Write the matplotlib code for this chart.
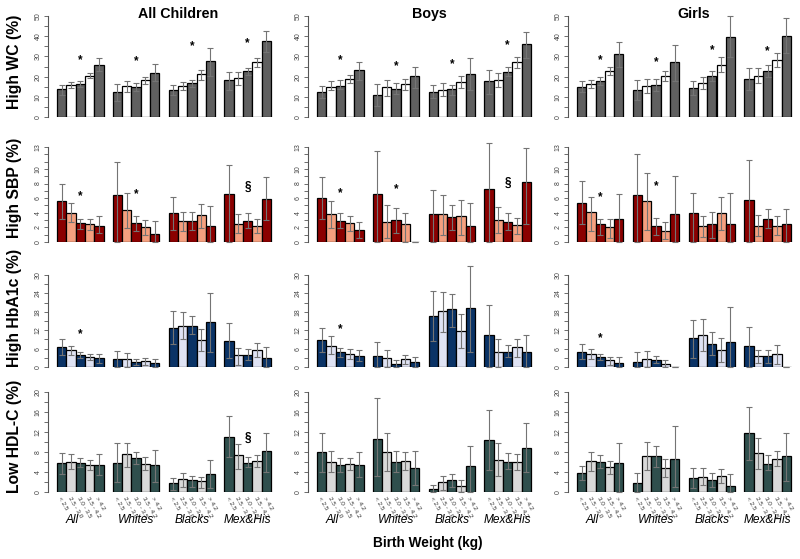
import numpy as np
import matplotlib
matplotlib.use('Agg')
import matplotlib.pyplot as plt

plt.rcParams['font.family'] = ['Liberation Sans', 'DejaVu Sans']

# ---- data: 4 groups x 5 birth-weight bins, value / lower CI / upper CI ----
groups = ['All', 'Whites', 'Blacks', 'Mex&His']
bw_labels = ['< 2.5', '2.5 - 3.0', '3.0 - 3.5', '3.5 - 4.2', '> 4.2']
col_titles = ['All Children', 'Boys', 'Girls']

# High WC
wc_all = [[13.8, 16.0, 16.4, 20.4, 25.8], [12.3, 15.3, 14.8, 18.4, 22.0],
          [13.5, 15.3, 16.9, 21.1, 27.6], [18.4, 19.4, 22.9, 27.3, 37.7]]
wc_all_lo = [[11.0, 14.3, 14.8, 19.2, 23.0], [7.7, 12.3, 12.7, 16.4, 17.6],
             [11.0, 13.5, 14.8, 18.4, 20.4], [13.5, 16.0, 20.6, 25.0, 32.4]]
wc_all_hi = [[15.8, 17.3, 17.9, 21.7, 29.1], [16.4, 17.9, 16.8, 20.0, 26.2],
             [15.8, 17.3, 18.4, 23.4, 34.4], [22.5, 22.5, 24.5, 29.1, 42.6]]
wc_boys = [[12.4, 15.0, 15.3, 18.8, 23.3], [11.0, 14.8, 14.0, 16.4, 20.1],
           [12.3, 13.5, 14.0, 17.3, 21.4], [17.9, 18.4, 22.5, 27.0, 36.0]]
wc_boys_lo = [[9.4, 13.2, 13.8, 16.8, 18.4], [5.3, 10.2, 11.5, 13.5, 14.3],
              [9.4, 10.2, 11.0, 14.3, 13.5], [11.5, 14.8, 20.4, 24.2, 29.1]]
wc_boys_hi = [[15.5, 17.6, 18.4, 20.7, 27.1], [16.4, 18.4, 16.8, 18.9, 25.0],
              [16.0, 16.8, 16.0, 20.4, 29.4], [23.4, 22.0, 25.0, 29.6, 42.1]]
wc_girls = [[14.8, 16.4, 17.9, 22.9, 31.2], [13.5, 15.5, 15.8, 20.4, 27.0],
            [14.5, 16.8, 20.1, 25.7, 39.5], [18.8, 20.2, 23.0, 28.3, 40.1]]
wc_girls_lo = [[12.3, 14.3, 15.6, 20.6, 25.0], [8.6, 11.8, 12.7, 17.6, 17.9],
               [11.0, 13.8, 17.9, 22.2, 29.6], [13.5, 16.8, 19.7, 25.0, 31.9]]
wc_girls_hi = [[17.6, 18.4, 19.7, 24.7, 37.3], [18.4, 18.9, 18.9, 23.0, 35.7],
               [17.9, 19.7, 22.9, 29.6, 50.0], [24.2, 24.2, 25.5, 31.6, 48.8]]

# High SBP
sbp_all = [[5.6, 3.9, 2.6, 2.4, 2.25], [6.4, 4.4, 2.6, 2.1, 1.15],
           [3.9, 2.85, 2.9, 3.7, 2.25], [6.5, 2.5, 2.9, 2.25, 5.9]]
sbp_all_lo = [[3.1, 2.75, 1.8, 1.6, 1.2], [0, 1.9, 1.5, 1.0, 0],
              [1.6, 1.5, 1.7, 1.9, 0], [0, 1.2, 1.9, 1.2, 3.0]]
sbp_all_hi = [[8.0, 5.3, 3.2, 3.1, 3.6], [10.9, 6.7, 3.6, 3.0, 2.9],
              [6.1, 4.1, 4.1, 5.2, 4.9], [10.6, 3.8, 3.9, 3.2, 8.9]]
sbp_boys = [[6.0, 3.8, 2.9, 2.6, 1.7], [6.5, 2.75, 3.05, 2.5, 0],
            [3.8, 3.8, 3.4, 3.6, 2.15], [7.3, 3.0, 2.75, 2.3, 8.2]]
sbp_boys_lo = [[3.1, 1.9, 1.9, 1.5, 0.55], [0, 0.55, 1.2, 0, 0],
               [0, 1.0, 1.6, 1.0, 0], [0, 1.2, 1.7, 1.15, 2.5]]
sbp_boys_hi = [[8.9, 5.6, 3.9, 3.6, 2.75], [12.5, 5.1, 4.6, 3.9, 0],
               [7.1, 6.4, 5.0, 5.7, 5.4], [13.6, 4.8, 3.9, 3.3, 12.9]]
sbp_girls = [[5.4, 4.1, 2.4, 2.05, 3.2], [6.4, 5.6, 2.15, 1.5, 3.85],
             [4.0, 2.25, 2.4, 3.9, 2.4], [5.7, 2.15, 3.1, 2.25, 2.4]]
sbp_girls_lo = [[2.4, 1.5, 1.0, 0.5, 0], [0, 1.6, 1.0, 0.45, 0],
                [0, 0.65, 0.55, 1.7, 0], [0, 0.8, 1.9, 1.0, 0]]
sbp_girls_hi = [[8.4, 6.1, 3.1, 3.1, 6.5], [12.1, 9.4, 3.3, 2.75, 9.0],
                [6.7, 3.6, 4.1, 6.1, 6.7], [11.2, 3.7, 4.45, 3.6, 4.5]]

# High HbA1c
hba_all = [[6.5, 5.6, 4.0, 3.25, 2.9], [2.5, 2.7, 1.7, 1.95, 1.2],
           [12.7, 13.5, 13.5, 8.8, 14.8], [8.6, 4.0, 4.0, 5.5, 2.9]]
hba_all_lo = [[4.0, 3.8, 2.9, 2.2, 1.3], [0, 0, 0.75, 0.75, 0],
              [7.5, 9.1, 10.7, 5.1, 5.0], [2.9, 0.75, 2.4, 3.25, 0]]
hba_all_hi = [[9.2, 7.0, 4.8, 4.2, 4.3], [5.2, 4.5, 2.6, 2.9, 2.6],
              [18.1, 17.8, 16.5, 12.4, 24.0], [14.3, 6.1, 5.9, 7.7, 6.5]]
hba_boys = [[8.7, 7.0, 4.9, 4.3, 3.7], [3.5, 2.9, 0.9, 2.6, 1.5],
            [16.7, 18.1, 18.85, 11.9, 19.2], [10.3, 4.9, 4.9, 6.4, 4.9]]
hba_boys_lo = [[5.0, 4.3, 3.25, 2.7, 1.85], [0, 0, 0, 1.1, 0],
               [8.5, 11.4, 13.0, 6.2, 5.0], [0, 0, 3.25, 3.25, 0]]
hba_boys_hi = [[12.7, 10.0, 6.1, 5.9, 5.6], [8.0, 5.6, 2.2, 4.0, 3.25],
               [24.9, 24.6, 23.8, 17.3, 33.0], [20.3, 9.1, 7.3, 9.1, 10.5]]
hba_girls = [[4.8, 4.2, 3.1, 2.2, 1.3], [1.7, 2.6, 2.4, 1.1, 0],
             [9.6, 10.5, 7.6, 5.6, 8.2], [6.9, 3.7, 3.5, 4.3, 0]]
hba_girls_lo = [[2.5, 2.6, 2.2, 0.75, 0], [0, 0, 1.3, 0, 0],
                [3.0, 5.3, 4.0, 1.5, 0], [0, 1.3, 1.3, 1.1, 0]]
hba_girls_hi = [[7.5, 6.0, 4.2, 3.25, 3.25], [4.8, 5.3, 3.7, 2.4, 0],
                [15.4, 15.6, 11.3, 9.4, 19.5], [13.0, 5.6, 5.6, 7.2, 0]]

# Low HDL-C
hdl_all = [[5.8, 6.1, 5.9, 5.4, 5.5], [5.9, 7.6, 6.8, 5.7, 5.4],
           [1.8, 2.6, 2.4, 2.2, 3.7], [11.1, 7.5, 5.9, 6.3, 8.3]]
hdl_all_lo = [[3.6, 4.7, 5.0, 4.4, 3.5], [2.0, 5.0, 5.7, 4.4, 2.0],
              [0.5, 1.0, 1.1, 0.8, 0.8], [7.0, 4.7, 5.0, 5.0, 4.0]]
hdl_all_hi = [[7.8, 7.6, 6.8, 6.4, 7.6], [9.8, 9.9, 8.0, 7.0, 8.4],
              [2.9, 3.9, 3.3, 3.1, 6.5], [15.2, 9.6, 7.0, 7.5, 11.8]]
hdl_boys = [[8.0, 6.0, 5.5, 5.7, 5.5], [10.7, 8.0, 6.0, 6.2, 4.8],
            [0.65, 2.0, 2.4, 1.3, 5.2], [10.4, 6.5, 6.1, 6.0, 8.8]]
hdl_boys_lo = [[4.0, 4.05, 4.05, 4.5, 3.0], [3.3, 4.2, 4.05, 4.4, 1.5],
               [0, 0.45, 1.0, 0, 0], [4.5, 3.2, 4.7, 4.4, 4.0]]
hdl_boys_hi = [[11.9, 8.3, 6.8, 6.9, 8.0], [18.8, 11.8, 8.3, 8.0, 8.3],
               [1.4, 3.3, 3.6, 2.4, 9.2], [16.5, 9.8, 7.8, 7.6, 13.9]]
hdl_girls = [[3.9, 6.2, 6.1, 5.0, 5.8], [1.9, 7.3, 7.2, 4.8, 6.7],
             [2.75, 3.1, 2.4, 3.2, 1.25], [11.8, 7.8, 5.7, 6.7, 7.2]]
hdl_girls_lo = [[2.5, 4.25, 4.9, 3.7, 0], [0, 4.5, 5.0, 3.1, 1.0],
                [0.8, 1.4, 1.0, 1.8, 0], [6.5, 4.7, 4.4, 5.2, 2.2]]
hdl_girls_hi = [[5.2, 8.0, 7.45, 6.3, 9.8], [3.9, 10.1, 9.3, 6.7, 13.3],
                [4.8, 4.8, 3.9, 4.7, 3.7], [17.0, 10.9, 7.45, 8.2, 11.9]]

# significance marks above the middle bar of each group: (symbol, height)
wc_marks = [[('*', 28.3), ('*', 27.5), ('*', 34.9), ('*', 36.5)],
            [('*', 28.3), ('*', 25.3), ('*', 26.1), ('*', 35.5)],
            [('*', 28.3), ('*', 27.3), ('*', 33.2), ('*', 32.4)]]
sbp_marks = [[('*', 6.3), ('*', 6.6), None, ('§', 7.5)],
             [('*', 6.7), ('*', 7.2), None, ('§', 8.1)],
             [('*', 6.2), ('*', 7.7), None, None]]
hba_marks = [[('*', 10.8), None, None, None],
             [('*', 12.5), None, None, None],
             [('*', 9.4), None, None, None]]
hdl_marks = [[None, None, None, ('§', 10.8)],
             [None, None, None, None],
             [None, None, None, None]]

rows = [
    dict(label='High WC (%)', ymax=50, ticks=np.arange(0, 51, 5), shown=[0, 10, 20, 30, 40, 50],
         dark='#606060', light='#ffffff',
         panels=[(wc_all, wc_all_lo, wc_all_hi), (wc_boys, wc_boys_lo, wc_boys_hi),
                 (wc_girls, wc_girls_lo, wc_girls_hi)], marks=wc_marks),
    dict(label='High SBP (%)', ymax=13, ticks=np.arange(0, 14, 1), shown=[0, 2, 4, 6, 8, 10, 13],
         dark='#8b0000', light='#f5a07f',
         panels=[(sbp_all, sbp_all_lo, sbp_all_hi), (sbp_boys, sbp_boys_lo, sbp_boys_hi),
                 (sbp_girls, sbp_girls_lo, sbp_girls_hi)], marks=sbp_marks),
    dict(label='High HbA1c (%)', ymax=30, ticks=np.arange(0, 31, 3), shown=[0, 6, 12, 18, 24, 30],
         dark='#0a3366', light='#dfe3f4',
         panels=[(hba_all, hba_all_lo, hba_all_hi), (hba_boys, hba_boys_lo, hba_boys_hi),
                 (hba_girls, hba_girls_lo, hba_girls_hi)], marks=hba_marks),
    dict(label='Low HDL-C (%)', ymax=20, ticks=np.arange(0, 21, 2), shown=[0, 4, 8, 12, 16, 20],
         dark='#2f4f4d', light='#d9d9d9',
         panels=[(hdl_all, hdl_all_lo, hdl_all_hi), (hdl_boys, hdl_boys_lo, hdl_boys_hi),
                 (hdl_girls, hdl_girls_lo, hdl_girls_hi)], marks=hdl_marks),
]

# ---- layout in pixels ----
W, H = 800, 559
fig = plt.figure(figsize=(8, 5.59), dpi=100)

bar_x0 = [57, 317, 577]        # left edge of first bar in each column
unit = 9.3                      # pixels per bar
row_y = [(117, 16), (242, 147), (367, 275), (492, 392)]   # pixel of 0, pixel of ymax
ylab_y = [62, 188, 308, 436]
xlo, xhi = 0.08, 24.92

for r, row in enumerate(rows):
    y0, yt = row_y[r]
    for c in range(3):
        left = bar_x0[c] - (1 - xlo) * unit
        ax = fig.add_axes([left / W, 1 - y0 / H, (xhi - xlo) * unit / W, (y0 - yt) / H])
        ax.patch.set_alpha(0)
        vals, lo, hi = row['panels'][c]
        for g in range(4):
            xs = g * 6 + 1 + np.arange(5)
            v = np.array(vals[g])
            cols = [row['dark'], row['light']] * 3
            ax.bar(xs, v, width=1, align='edge', color=cols[:5], edgecolor='black', linewidth=0.9,
                   zorder=2)
            err = [v - np.array(lo[g]), np.array(hi[g]) - v]
            ax.errorbar(xs + 0.5, v, yerr=err, fmt='none', ecolor='#747474', elinewidth=0.8,
                        capsize=2, capthick=0.8, zorder=3, clip_on=False)
            m = row['marks'][c][g]
            if m is not None:
                ax.text(xs[2] + 0.5, m[1], m[0], ha='center', va='center', fontsize=8.5,
                        fontweight='bold', zorder=4)
            if r == 3:
                for i in range(5):
                    ax.annotate(bw_labels[i], xy=(xs[i] + 0.5, 0), xycoords='data',
                                xytext=(-1.5, -4), textcoords='offset points', rotation=-60,
                                rotation_mode='anchor', ha='left', va='center', fontsize=4.6,
                                color='#333333', annotation_clip=False)
                xg = g * 6 + 3.5 - (0.85 if g == 0 else 0)
                ax.annotate(groups[g], xy=(xg, 0), xycoords='data', xytext=(0, -20.5),
                            textcoords='offset points', ha='center', va='center',
                            fontsize=8.6, fontstyle='italic', annotation_clip=False)
        ax.set_xlim(xlo, xhi)
        ax.set_ylim(0, row['ymax'])
        for s in ['top', 'right', 'bottom']:
            ax.spines[s].set_visible(False)
        ax.spines['left'].set_bounds(0, row['ymax'])
        ax.spines['left'].set_color('#555555')
        ax.spines['left'].set_linewidth(0.8)
        ax.set_xticks([])
        ax.set_yticks(row['ticks'])
        ax.set_yticklabels([str(int(t)) if t in row['shown'] else '' for t in row['ticks']],
                           rotation=90, va='center', fontsize=5, color='#444444')
        ax.tick_params(axis='y', length=3, width=0.6, color='#555555', pad=2)

    fig.text(14 / W, 1 - ylab_y[r] / H, row['label'], rotation=90, ha='center', va='center',
             fontsize=11.3, fontweight='bold')

title_x = [178, 429, 694]
for c in range(3):
    fig.text(title_x[c] / W, 1 - 14 / H, col_titles[c], ha='center', va='center',
             fontsize=10.3, fontweight='bold')

fig.text(428 / W, 1 - 543 / H, 'Birth Weight (kg)', ha='center', va='center',
         fontsize=9.8, fontweight='bold')

fig.savefig('out.png', dpi=100)
